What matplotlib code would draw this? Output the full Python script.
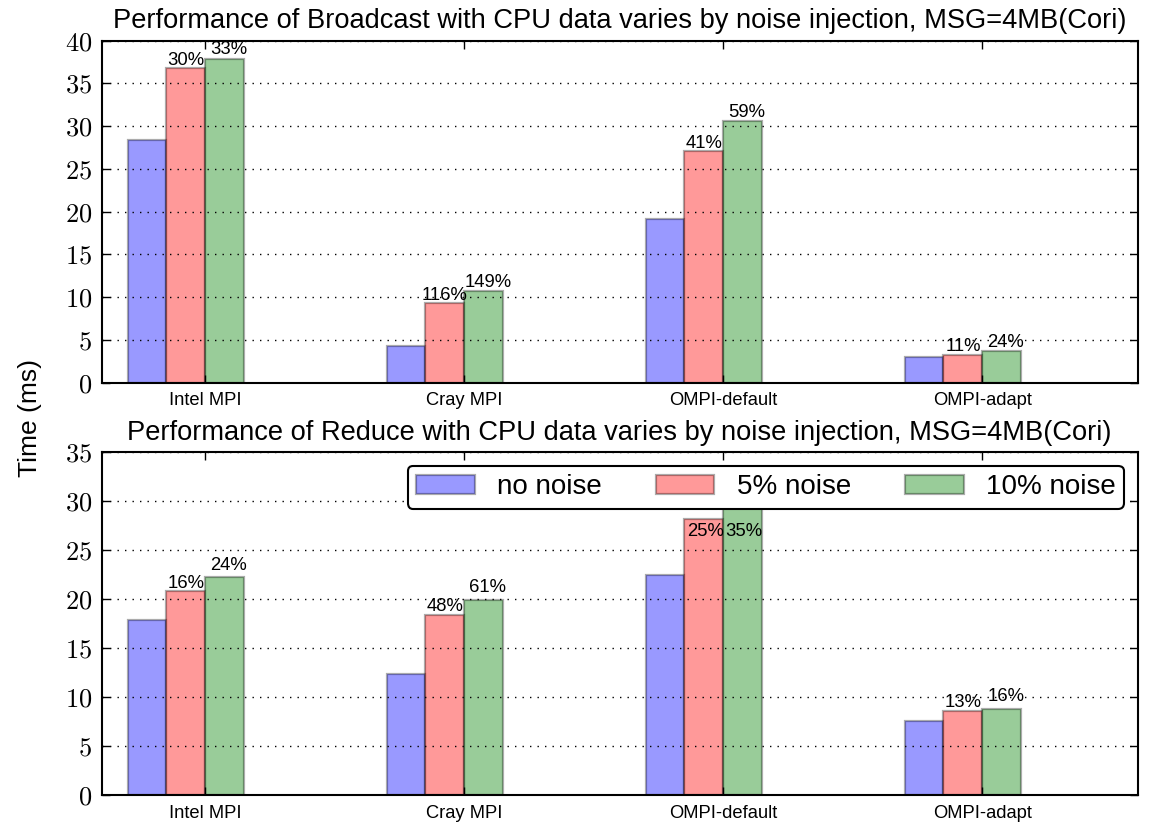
import matplotlib
matplotlib.use("Agg")
import matplotlib.pyplot as plt
import numpy as np
from matplotlib.ticker import FuncFormatter, MultipleLocator
from matplotlib.colors import to_rgba

plt.rcParams['font.family'] = ['Liberation Sans', 'DejaVu Sans']
plt.rcParams['mathtext.fontset'] = 'cm'

categories = ["Intel MPI", "Cray MPI", "OMPI-default", "OMPI-adapt"]
series_names = ["no noise", "5% noise", "10% noise"]

bcast_no_noise = [28.4, 4.3, 19.2, 2.95]
bcast_5pct = [36.8, 9.3, 27.1, 3.27]
bcast_10pct = [37.9, 10.7, 30.6, 3.66]
bcast_labels_5 = ["30%", "116%", "41%", "11%"]
bcast_labels_10 = ["33%", "149%", "59%", "24%"]

reduce_no_noise = [17.9, 12.4, 22.5, 7.55]
reduce_5pct = [20.8, 18.4, 28.2, 8.58]
reduce_10pct = [22.2, 19.95, 30.4, 8.8]
reduce_labels_5 = ["16%", "48%", "25%", "13%"]
reduce_labels_10 = ["24%", "61%", "35%", "16%"]

bcast_title = "Performance of Broadcast with CPU data varies by noise injection, MSG=4MB(Cori)"
reduce_title = "Performance of Reduce with CPU data varies by noise injection, MSG=4MB(Cori)"

colors = ['b', 'r', 'g']
width = 0.15

fig = plt.figure(figsize=(11.49, 8.22), dpi=100)
ax1 = fig.add_axes([0.0885, 0.5344, 0.9017, 0.4161])
ax2 = fig.add_axes([0.0885, 0.0328, 0.9017, 0.4173])


def draw(ax, data, labels5, labels10, title, ymax, off5, off10, cap=None):
    x = np.arange(len(categories))
    bars = []
    for i, (vals, c) in enumerate(zip(data, colors)):
        b = ax.bar(x - 2 * width + i * width, vals, width, align='edge',
                   facecolor=to_rgba(c, 0.4), edgecolor=(0, 0, 0, 0.33),
                   linewidth=1.6, label=series_names[i], zorder=1)
        bars.append(b)
    for vals, labs, off, shift, idx in [(data[1], labels5, off5, 0, 1),
                                         (data[2], labels10, off10, 3, 2)]:
        for k, (v, lab) in enumerate(zip(vals, labs)):
            cx = x[k] - 2 * width + idx * width + width / 2
            y = v
            oy = off
            shift_k = shift
            if cap is not None and v > cap:
                y = cap
                oy = 0
                shift_k = 1
            ax.annotate(lab, (cx, y), xytext=(shift_k, oy), textcoords='offset points',
                        ha='center', va='baseline', fontsize=13.3, zorder=3)
    ax.set_xlim(-0.4, 3.6)
    ax.set_ylim(0, ymax)
    ax.set_xticks(x)
    ax.set_xticklabels(categories, fontsize=13.2)
    ax.yaxis.set_major_locator(MultipleLocator(5))
    ax.yaxis.set_major_formatter(FuncFormatter(lambda v, p: r'$%d$' % int(round(v))))
    ax.tick_params(axis='both', direction='in', length=6, width=1,
                   top=True, right=True)
    ax.tick_params(axis='y', pad=7, labelsize=19)
    ax.tick_params(axis='x', pad=7)
    ax.set_axisbelow(False)
    ax.yaxis.grid(True, linestyle=(0, (1, 4.4)), color='black', linewidth=1)
    for s in ax.spines.values():
        s.set_linewidth(1.5)
    ax.set_title(title, fontsize=19.6, pad=9)
    return bars


draw(ax1, [bcast_no_noise, bcast_5pct, bcast_10pct], bcast_labels_5, bcast_labels_10,
     bcast_title, 40, 2.5, 3)
draw(ax2, [reduce_no_noise, reduce_5pct, reduce_10pct], reduce_labels_5, reduce_labels_10,
     reduce_title, 35, 2.5, 5.5, cap=26.4)

leg = ax2.legend(loc='upper right', ncol=3, fontsize=20, fancybox=True,
                 framealpha=1, edgecolor='black', borderpad=0.3,
                 columnspacing=1.96, handletextpad=0.8, handlelength=2.1)
leg.get_frame().set_linewidth(1.5)
leg.set_zorder(5)

fig.text(30 / 1149, 0.492, "Time (ms)", rotation=90, ha='center', va='center', fontsize=19)

fig.savefig("out.png", dpi=100)
